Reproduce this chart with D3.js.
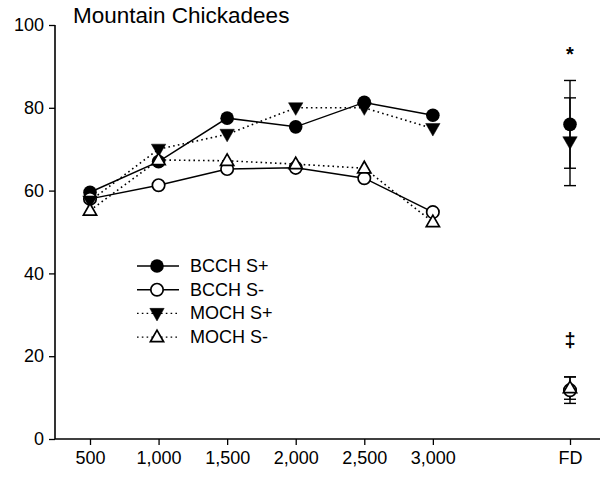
<!DOCTYPE html>
<html>
<head>
<meta charset="utf-8">
<script src="https://cdn.jsdelivr.net/npm/d3@7"></script>
<style>
  html, body { margin: 0; padding: 0; background: #fff; }
  svg { display: block; }
  text { font-family: Arial, "Liberation Sans", Helvetica, sans-serif; fill: #000; }
</style>
</head>
<body>
<svg id="chart" width="600" height="481"></svg>
<script>
// Song-length conditions (Hz) plus the FD summary column
const distances = [500, 1000, 1500, 2000, 2500, 3000];
const fdPosition = 4000;           // where the FD column sits on the x scale
const xTickLabels = ["500", "1,000", "1,500", "2,000", "2,500", "3,000", "FD"];
const yTicks = [0, 20, 40, 60, 80, 100];

// Percent values per group across distances
const bcchPlus  = [59.6, 67.0, 77.5, 75.4, 81.3, 78.2];
const bcchMinus = [58.0, 61.3, 65.2, 65.5, 63.0, 54.8];
const mochPlus  = [57.5, 70.0, 73.6, 80.0, 80.0, 75.0];
const mochMinus = [55.2, 67.4, 67.2, 66.4, 65.4, 52.4];

// FD means and error half-widths
const fdMeans  = [76.0, 11.8, 71.8, 12.3];
const fdErrors = [10.6, 3.2, 10.6, 2.7];

const seriesNames = ["BCCH S+", "BCCH S-", "MOCH S+", "MOCH S-"];
const annotations = [
  { label: "*", value: 93.0, size: 20 },
  { label: "\u2021", value: 24.0, size: 20 }
];

const svg = d3.select("#chart");

const x = d3.scaleLinear().domain([500, fdPosition]).range([90, 570]);
const y = d3.scaleLinear().domain([0, 100]).range([439, 25]);

const styles = [
  { shape: "circle", filled: true,  dash: null },
  { shape: "circle", filled: false, dash: null },
  { shape: "down",   filled: true,  dash: "1.6,3.2" },
  { shape: "up",     filled: false, dash: "1.6,3.2" }
];
const values = [bcchPlus, bcchMinus, mochPlus, mochMinus];

// Axes
const yAxis = d3.axisLeft(y).tickValues(yTicks).tickSize(6).tickPadding(5);
const gy = svg.append("g").attr("transform", "translate(55,0)").call(yAxis);
gy.select(".domain").attr("d", `M0,${y(100)}V${y(0)}`);

const xTickPositions = distances.concat([fdPosition]);
const xAxis = d3.axisBottom(x).tickValues(xTickPositions)
  .tickFormat((d, i) => xTickLabels[i]).tickSize(6).tickPadding(6);
const gx = svg.append("g").attr("transform", `translate(0,${y(0)})`).call(xAxis);
gx.select(".domain").attr("d", "M55,0H600");

[gx, gy].forEach(g => {
  g.selectAll(".domain").attr("stroke", "#000").attr("stroke-width", 1.6);
  g.selectAll(".tick line").attr("stroke", "#000").attr("stroke-width", 1.3);
  g.selectAll(".tick text").style("font-size", "18px").attr("fill", "#000");
});

// Title
svg.append("text").attr("x", 73).attr("y", 23)
  .style("font-size", "22.5px").text("Mountain Chickadees");

// Marker drawing helper
function drawMarker(g, st, cx, cy) {
  if (st.shape === "circle") {
    g.append("circle").attr("cx", cx).attr("cy", cy)
      .attr("r", st.filled ? 6.8 : 6.2)
      .attr("fill", st.filled ? "#000" : "#fff")
      .attr("stroke", "#000").attr("stroke-width", st.filled ? 0 : 1.7);
  } else {
    const s = st.filled ? 7.2 : 6.6;
    const h = s * 1.0;
    const pts = st.shape === "down"
      ? [[cx - s, cy - h * 0.7], [cx + s, cy - h * 0.7], [cx, cy + h * 1.05]]
      : [[cx - s, cy + h * 0.7], [cx + s, cy + h * 0.7], [cx, cy - h * 1.05]];
    g.append("path").attr("d", "M" + pts.map(p => p.join(",")).join("L") + "Z")
      .attr("fill", st.filled ? "#000" : "#fff")
      .attr("stroke", "#000").attr("stroke-width", st.filled ? 0.5 : 1.7)
      .attr("stroke-linejoin", "miter");
  }
}

// Lines first, then markers
const line = d3.line().x((d, i) => x(distances[i])).y(d => y(d));
values.forEach((vals, k) => {
  svg.append("path").datum(vals).attr("d", line)
    .attr("fill", "none").attr("stroke", "#000")
    .attr("stroke-width", styles[k].dash ? 1.6 : 1.5)
    .attr("stroke-dasharray", styles[k].dash);
});

// FD error bars
const fdG = svg.append("g");
fdMeans.forEach((m, k) => {
  const cx = x(fdPosition);
  const lo = y(m - fdErrors[k]), hi = y(m + fdErrors[k]);
  fdG.append("line").attr("x1", cx).attr("x2", cx).attr("y1", hi).attr("y2", lo)
    .attr("stroke", "#000").attr("stroke-width", 1.4);
  [lo, hi].forEach(yy => fdG.append("line")
    .attr("x1", cx - 6).attr("x2", cx + 6).attr("y1", yy).attr("y2", yy)
    .attr("stroke", "#000").attr("stroke-width", 1.4));
});

const markG = svg.append("g");
values.forEach((vals, k) => {
  vals.forEach((v, i) => drawMarker(markG, styles[k], x(distances[i]), y(v)));
  drawMarker(markG, styles[k], x(fdPosition), y(fdMeans[k]));
});

// Significance symbols above FD
annotations.forEach(a => {
  svg.append("text").attr("x", x(fdPosition)).attr("y", y(a.value))
    .attr("text-anchor", "middle").attr("dominant-baseline", "central")
    .style("font-size", a.size + "px").style("font-weight", "bold").text(a.label);
});

// Legend
const legend = svg.append("g");
seriesNames.forEach((name, k) => {
  const ly = 266 + k * 23.7;
  legend.append("line").attr("x1", 137).attr("x2", 179).attr("y1", ly).attr("y2", ly)
    .attr("stroke", "#000").attr("stroke-width", 1.4)
    .attr("stroke-dasharray", styles[k].dash);
  drawMarker(legend, styles[k], 157, ly);
  legend.append("text").attr("x", 190).attr("y", ly).attr("dominant-baseline", "central")
    .style("font-size", "18px").text(name);
});
</script>
</body>
</html>
